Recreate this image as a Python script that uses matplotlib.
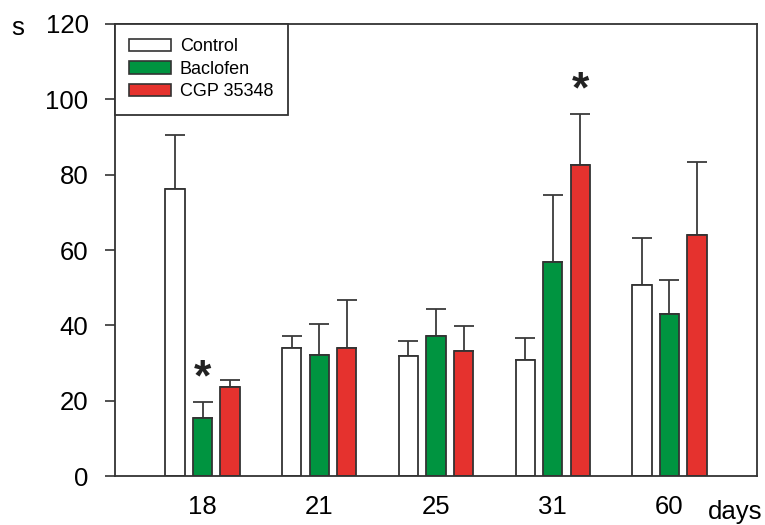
import matplotlib
matplotlib.use("Agg")
import matplotlib.pyplot as plt
import numpy as np
from matplotlib.patches import Patch

plt.rcParams['font.family'] = ['Liberation Sans', 'DejaVu Sans']

days = ["18", "21", "25", "31", "60"]
groups = ["Control", "Baclofen", "CGP 35348"]
means = {
    "Control":   [76.2, 34.1, 31.8, 30.8, 50.6],
    "Baclofen":  [15.5, 32.1, 37.1, 56.8, 42.9],
    "CGP 35348": [23.7, 34.1, 33.2, 82.6, 63.9],
}
sem = {
    "Control":   [14.2, 3.2, 4.0, 5.9, 12.6],
    "Baclofen":  [4.1, 8.3, 7.3, 17.8, 9.1],
    "CGP 35348": [1.7, 12.5, 6.7, 13.4, 19.4],
}
colors = {"Control": "#ffffff", "Baclofen": "#009440", "CGP 35348": "#e5322e"}
# significance markers: (day index, group)
stars = [(0, "Baclofen"), (3, "CGP 35348")]

edge = "#333333"
fig = plt.figure(figsize=(7.65, 5.25), dpi=100)
ax = fig.add_axes([0.1503, 0.0933, 0.8392, 0.861])

x = np.arange(len(days))
width = 0.165
step = 0.236
for i, g in enumerate(groups):
    xs = x + (i - 1) * step
    ax.bar(xs, means[g], width=width, color=colors[g], edgecolor=edge,
           linewidth=1.3, zorder=2)
    ax.errorbar(xs, means[g], yerr=[np.zeros(len(days)), sem[g]], fmt="none",
                ecolor="#3a3a3a", elinewidth=1.3, capsize=7, capthick=1.3,
                zorder=1)

for di, g in stars:
    gi = groups.index(g)
    top = means[g][di] + sem[g][di]
    ax.annotate("*", xy=(x[di] + (gi - 1) * step, top), xytext=(0, 2),
                textcoords="offset points", ha="center", va="bottom",
                fontsize=32, fontweight="bold", color="#222222")

ax.set_xlim(-0.75, 4.75)
ax.set_ylim(0, 120)
ax.set_yticks(np.arange(0, 121, 20))
ax.set_xticks(x)
ax.set_xticklabels(days)
ax.tick_params(axis="y", direction="out", length=7, width=1.2, color=edge,
               labelsize=18.5, pad=12)
ax.tick_params(axis="x", length=0, labelsize=18.5, pad=14)
for s in ax.spines.values():
    s.set_color(edge)
    s.set_linewidth(1.3)

fig.text(0.015, 0.947, "s", fontsize=18.5, ha="left", va="center")
fig.text(0.925, 0.024, "days", fontsize=18.5, ha="left", va="center")

handles = [Patch(facecolor=colors[g], edgecolor=edge, linewidth=1.2, label=g)
           for g in groups]
leg = ax.legend(handles=handles, loc="upper left", bbox_to_anchor=(0, 1),
                borderaxespad=0, fancybox=False, edgecolor=edge, fontsize=13,
                handlelength=2.3, handleheight=0.7, labelspacing=0.3,
                handletextpad=0.5, borderpad=0.8, framealpha=1)
leg.get_frame().set_linewidth(1.3)

fig.savefig("out.png", dpi=100)
